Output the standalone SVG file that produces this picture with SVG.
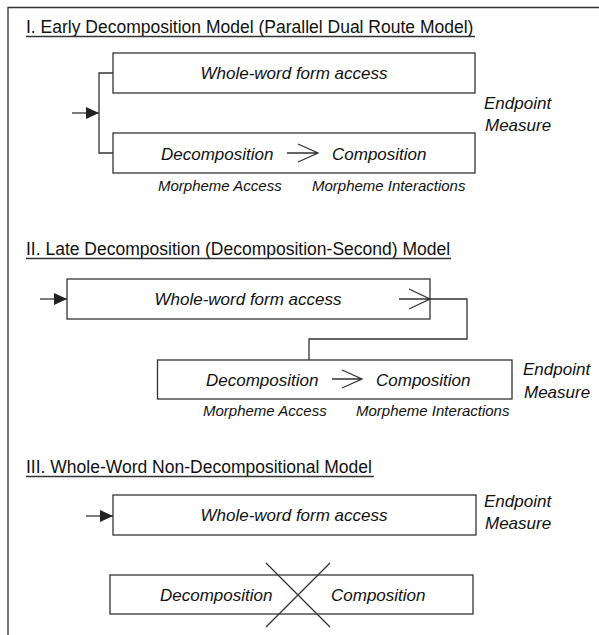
<svg xmlns="http://www.w3.org/2000/svg" width="599" height="635" viewBox="0 0 599 635">
<style>
.box{fill:#fff;stroke:#333;stroke-width:1.3}
.ln{fill:none;stroke:#333;stroke-width:1.3}
.title{font-family:"Liberation Sans",Arial,sans-serif;font-size:17.5px;fill:#111}
.lbl{font-family:"Liberation Sans",Arial,sans-serif;font-size:17px;font-style:italic;fill:#111}
.sub{font-family:"Liberation Sans",Arial,sans-serif;font-size:15px;font-style:italic;fill:#111}
</style>
<defs>
<marker id="fa" markerWidth="14" markerHeight="12" refX="13" refY="6" orient="auto" markerUnits="userSpaceOnUse">
<path d="M0,0 L13,6 L0,12 Z" fill="#222"/>
</marker>
</defs>
<rect width="599" height="635" fill="#fff"/>
<g id="frame"><path class="ln" d="M8,635 V7.5 H599"/></g>

<g id="titles">
<text class="title" x="26" y="33">I. Early Decomposition Model (Parallel Dual Route Model)</text>
<line class="ln" x1="26" y1="36.5" x2="475" y2="36.5" stroke-width="1.1"/>
<text class="title" x="26" y="255">II. Late Decomposition (Decomposition-Second) Model</text>
<line class="ln" x1="26" y1="258.5" x2="451" y2="258.5" stroke-width="1.1"/>
<text class="title" x="26" y="473">III. Whole-Word Non-Decompositional Model</text>
<line class="ln" x1="26" y1="476.5" x2="374" y2="476.5" stroke-width="1.1"/>
</g>

<g id="n1-whole">
<rect class="box" x="113" y="53" width="362" height="40"/>
<text class="lbl" x="294" y="79" text-anchor="middle">Whole-word form access</text>
</g>
<g id="n1-decomp">
<rect class="box" x="113" y="133" width="362" height="40"/>
<text class="lbl" x="161" y="160">Decomposition</text>
<text class="lbl" x="332" y="160">Composition</text>
<path class="ln" d="M287,153 H318 M298,144 L318,153 L298,162"/>
<text class="sub" x="158" y="190.5">Morpheme Access</text>
<text class="sub" x="312" y="190.5">Morpheme Interactions</text>
</g>
<g id="n1-endpoint">
<text class="lbl" x="484" y="109">Endpoint</text>
<text class="lbl" x="485" y="131">Measure</text>
</g>

<g id="n2-whole">
<rect class="box" x="67" y="279" width="363" height="40"/>
<text class="lbl" x="248" y="305" text-anchor="middle">Whole-word form access</text>
</g>
<g id="n2-decomp">
<rect class="box" x="157.5" y="360" width="354.5" height="39"/>
<text class="lbl" x="206" y="386">Decomposition</text>
<text class="lbl" x="376" y="386">Composition</text>
<path class="ln" d="M332,379 H362 M342,370 L362,379 L342,388"/>
<text class="sub" x="203" y="416">Morpheme Access</text>
<text class="sub" x="356" y="416">Morpheme Interactions</text>
</g>
<g id="n2-endpoint">
<text class="lbl" x="523" y="375">Endpoint</text>
<text class="lbl" x="524" y="398">Measure</text>
</g>

<g id="n3-whole">
<rect class="box" x="113" y="495" width="363" height="40"/>
<text class="lbl" x="294" y="521" text-anchor="middle">Whole-word form access</text>
</g>
<g id="n3-endpoint">
<text class="lbl" x="484" y="507">Endpoint</text>
<text class="lbl" x="485" y="529">Measure</text>
</g>
<g id="n3-decomp">
<rect class="box" x="110" y="575" width="363" height="39"/>
<text class="lbl" x="160" y="601">Decomposition</text>
<text class="lbl" x="331" y="601">Composition</text>
<path class="ln" d="M266,563 L330,627 M330,563 L266,627" stroke-width="1"/>
</g>

<g id="connectors">
<line class="ln" x1="72" y1="113" x2="99" y2="113" marker-end="url(#fa)"/>
<path class="ln" d="M113,73 H99 V153 H113"/>
<path class="ln" d="M399,299 H430 M409,289 L430,299 L409,309"/>
<line class="ln" x1="40" y1="299" x2="67" y2="299" marker-end="url(#fa)"/>
<path class="ln" d="M430,299 H467 V339 H309 V360"/>
<line class="ln" x1="86" y1="516" x2="113" y2="516" marker-end="url(#fa)"/>
</g>
</svg>
